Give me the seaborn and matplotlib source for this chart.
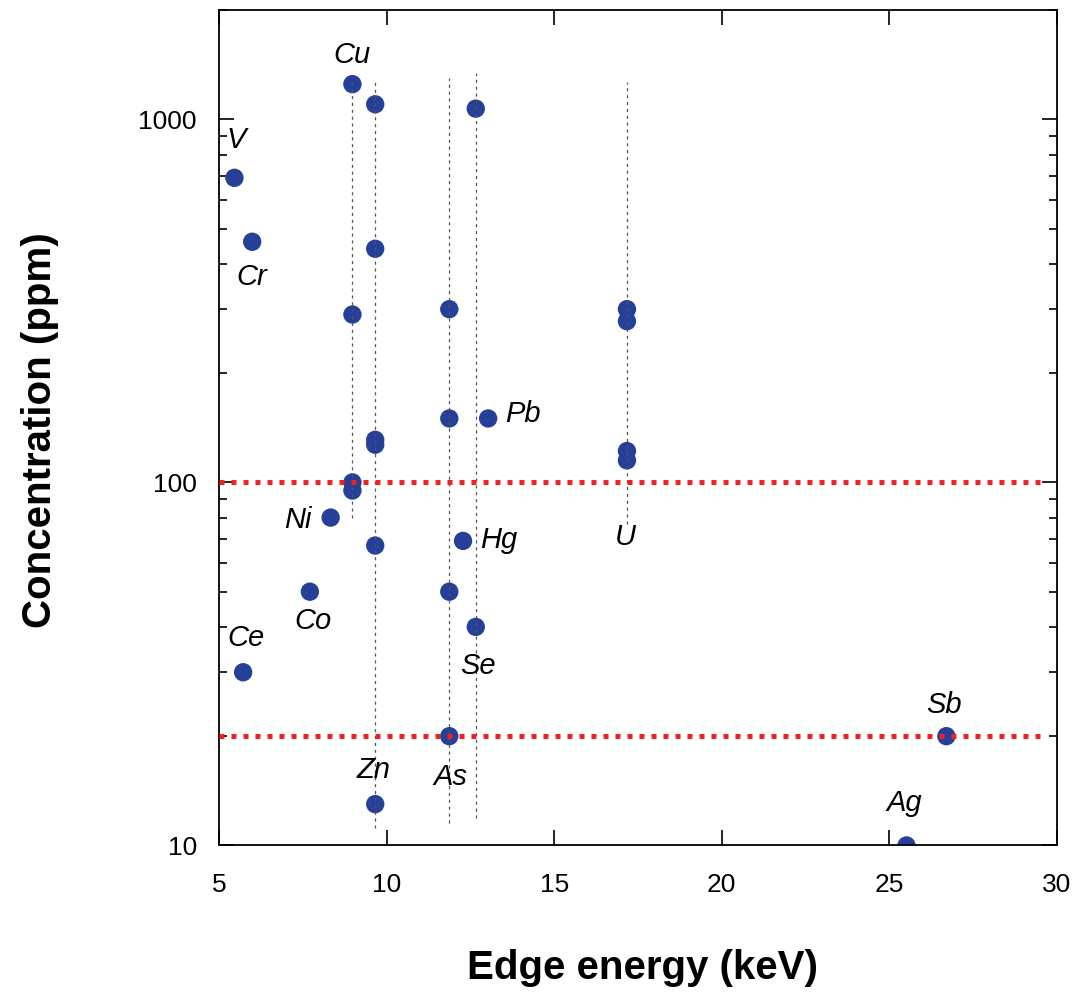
import matplotlib
matplotlib.use("Agg")
import matplotlib.pyplot as plt
import matplotlib.ticker as mticker
import numpy as np
import pandas as pd
import seaborn as sns

# Measured concentrations, one entry per sample point
element = ["V", "Cr", "Ce", "Co", "Ni",
           "Cu", "Cu", "Cu", "Cu",
           "Zn", "Zn", "Zn", "Zn", "Zn", "Zn",
           "As", "As", "As", "As",
           "Hg", "Se", "Se", "Pb",
           "U", "U", "U", "U",
           "Ag", "Sb"]
edge_energy = [5.46, 5.99, 5.72, 7.71, 8.33,
               8.98, 8.98, 8.98, 8.98,
               9.66, 9.66, 9.66, 9.66, 9.66, 9.66,
               11.87, 11.87, 11.87, 11.87,
               12.28, 12.66, 12.66, 13.03,
               17.17, 17.17, 17.17, 17.17,
               25.51, 26.70]
concentration = [690, 460, 30, 50, 80,
                 1250, 290, 100, 95,
                 1100, 440, 131, 127, 67, 13,
                 300, 150, 50, 20,
                 69, 1070, 40, 150,
                 300, 278, 122, 115,
                 10, 20]

# Element labels and the point each one sits next to
label_text = ["V", "Cr", "Cu", "Ni", "Co", "Ce", "Zn", "As", "Se", "Pb", "Hg", "U", "Sb", "Ag"]
label_x = [5.46, 5.99, 8.98, 8.33, 7.71, 5.72, 9.66, 11.87, 12.66, 13.03, 12.28, 17.17, 26.70, 25.51]
label_y = [690, 460, 1250, 80, 50, 30, 13, 20, 40, 150, 69, 115, 20, 10]

# Vertical guides through repeated measurements of one edge
guide_x = [8.98, 9.66, 11.87, 12.66, 17.17]
guide_low = [80, 11.2, 11.5, 11.9, 77]
guide_high = [1300, 1270, 1300, 1340, 1265]

# Horizontal threshold levels
threshold_levels = [100, 20]
threshold_span = (5.0, 29.6)

df = pd.DataFrame({"element": element, "energy": edge_energy, "conc": concentration})

sns.set_theme(style="ticks")
plt.rcParams["font.family"] = ["Liberation Sans", "DejaVu Sans"]

fig = plt.figure(figsize=(10.81, 9.92), dpi=100)
ax = fig.add_axes([0.2026, 0.1477, 0.7752, 0.8422])
ax.set_yscale("log")

sns.scatterplot(data=df, x="energy", y="conc", s=175, color="#26409a",
                edgecolor="none", linewidth=0, ax=ax, zorder=2, legend=False)

ax.vlines(guide_x, guide_low, guide_high, colors="#555555", linewidth=0.9,
          linestyles=(0, (2.5, 3.0)), zorder=3)

ax.hlines(threshold_levels, threshold_span[0], threshold_span[1], colors="#ee2222",
          linewidth=3.6, linestyles=(0, (1.0, 1.4)), zorder=4)

# Label offsets in pixels from the anchor point
offsets = {"V": (2, 38), "Cr": (0, -35), "Cu": (0, 29), "Ni": (-33, -2),
           "Co": (3, -29), "Ce": (3, 34), "Zn": (-2, 34), "As": (1, -41),
           "Se": (2, -39), "Pb": (35, 4), "Hg": (36, 1), "U": (-2, -77),
           "Sb": (-2, 31), "Ag": (-2, 42)}
for name, lx, ly in zip(label_text, label_x, label_y):
    ax.annotate(name, (lx, ly), xytext=offsets[name], textcoords="offset pixels",
                ha="center", va="center", fontsize=21, style="italic", color="black",
                zorder=5)

ax.set_xlim(5, 30)
ax.set_ylim(10, 2000)
ax.xaxis.set_major_locator(mticker.MultipleLocator(5))
ax.xaxis.set_minor_locator(mticker.NullLocator())
ax.yaxis.set_major_locator(mticker.FixedLocator([10, 100, 1000]))
ax.yaxis.set_minor_locator(mticker.LogLocator(base=10, subs=np.arange(2, 10)))
ax.yaxis.set_major_formatter(mticker.FuncFormatter(lambda v, p: f"{v:g}"))
ax.yaxis.set_minor_formatter(mticker.NullFormatter())
ax.xaxis.set_major_formatter(mticker.FuncFormatter(lambda v, p: f"{v:g}"))

ax.tick_params(which="both", direction="in", top=True, right=True, color="black", width=1.2)
ax.tick_params(which="major", length=10.5, labelsize=19, labelcolor="black")
ax.tick_params(which="minor", length=5.5)
ax.tick_params(axis="x", which="major", pad=20)
ax.tick_params(axis="y", which="major", pad=16)
for sp in ax.spines.values():
    sp.set_color("black")
    sp.set_linewidth(1.3)

ax.set_xlabel("Edge energy (keV)", fontsize=29, fontweight="bold", color="black")
ax.set_ylabel("Concentration (ppm)", fontsize=29, fontweight="bold", color="black")
ax.xaxis.set_label_coords(0.505, -0.1466)
ax.xaxis.label.set_va("center")
ax.yaxis.set_label_coords(-0.2136, 0.497)
ax.yaxis.label.set_va("center")

fig.savefig("out.png", dpi=100, facecolor="white")
